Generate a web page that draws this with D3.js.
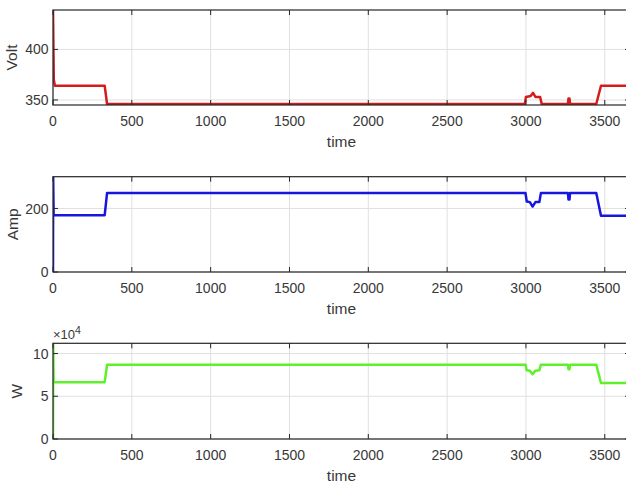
<!DOCTYPE html>
<html>
<head>
<meta charset="utf-8">
<script src="https://cdn.jsdelivr.net/npm/d3@7"></script>
<style>
  html, body { margin: 0; padding: 0; background: #fff; }
  svg { display: block; }
  text { font-family: "Liberation Sans", Arial, sans-serif; fill: #383838; }
</style>
</head>
<body>
<svg id="chart" width="626" height="487"></svg>
<script>
// time ticks shared by all three panels
const timeTicks = [0, 500, 1000, 1500, 2000, 2500, 3000, 3500];

// voltage trace
const voltTime = [0, 5, 12, 328, 343, 2993, 3000, 3030, 3045, 3060, 3090, 3100, 3266, 3270, 3276, 3280, 3446, 3476, 3660];
const voltVals = [439, 370, 364, 364, 346, 346, 353, 354, 357, 353, 353, 346, 346, 351.5, 351.5, 346, 346, 364, 364];
const voltTicks = [350, 400];

// current trace
const ampTime = [0, 1, 4, 328, 343, 2997, 3005, 3025, 3042, 3060, 3085, 3095, 3266, 3270, 3276, 3280, 3446, 3476, 3660];
const ampVals = [0, 300, 179, 179, 249, 249, 222, 220, 206, 220, 220, 249, 249, 228, 228, 249, 249, 177, 177];
const ampTicks = [0, 200];

// power trace
const powTime = [0, 1, 4, 328, 343, 2997, 3005, 3025, 3042, 3060, 3085, 3095, 3266, 3270, 3276, 3280, 3446, 3476, 3660];
const powVals = [0, 112000, 66500, 66500, 87000, 87000, 80500, 80000, 75800, 80000, 80500, 87000, 87000, 81500, 81500, 87000, 87000, 65500, 65500];
const powTicks = [0, 50000, 100000];

const svg = d3.select('#chart');

const left = 53, right = 630;
const x = d3.scaleLinear().domain([0, 3660]).range([left, right]);

function drawPanel(p) {
    const y = d3.scaleLinear().domain(p.domain).range([p.bottom, p.top]);
    const g = svg.append('g');

    // grid
    g.selectAll('.gx').data(timeTicks).enter().append('line')
        .attr('x1', d => x(d)).attr('x2', d => x(d))
        .attr('y1', p.top).attr('y2', p.bottom)
        .attr('stroke', '#e0e0e0').attr('stroke-width', 1);
    g.selectAll('.gy').data(p.ticks).enter().append('line')
        .attr('x1', left).attr('x2', right)
        .attr('y1', d => y(d)).attr('y2', d => y(d))
        .attr('stroke', '#e0e0e0').attr('stroke-width', 1);

    // data line, clipped to the axes box
    const clipId = 'clip' + p.id;
    svg.append('clipPath').attr('id', clipId).append('rect')
        .attr('x', left).attr('y', p.top)
        .attr('width', right - left).attr('height', p.bottom - p.top);

    const line = d3.line().x(d => x(d[0])).y(d => y(d[1]));
    g.append('path')
        .datum(p.time.map((t, i) => [t, p.vals[i]]))
        .attr('clip-path', `url(#${clipId})`)
        .attr('fill', 'none')
        .attr('stroke', p.color)
        .attr('stroke-width', 2.5)
        .attr('stroke-linejoin', 'round')
        .attr('d', line);

    // box
    g.append('rect')
        .attr('x', left).attr('y', p.top)
        .attr('width', right - left).attr('height', p.bottom - p.top)
        .attr('fill', 'none').attr('stroke', '#262626').attr('stroke-width', 1.2);

    // inward ticks on all sides
    const tl = 5;
    timeTicks.forEach(t => {
        g.append('line').attr('x1', x(t)).attr('x2', x(t))
            .attr('y1', p.bottom).attr('y2', p.bottom - tl)
            .attr('stroke', '#262626');
        g.append('line').attr('x1', x(t)).attr('x2', x(t))
            .attr('y1', p.top).attr('y2', p.top + tl)
            .attr('stroke', '#262626');
    });
    p.ticks.forEach(v => {
        g.append('line').attr('x1', left).attr('x2', left + tl)
            .attr('y1', y(v)).attr('y2', y(v)).attr('stroke', '#262626');
        g.append('line').attr('x1', right).attr('x2', right - tl)
            .attr('y1', y(v)).attr('y2', y(v)).attr('stroke', '#262626');
    });

    // tick labels
    g.selectAll('.xl').data(timeTicks).enter().append('text')
        .attr('x', d => x(d)).attr('y', p.bottom + 20.5)
        .attr('text-anchor', 'middle').attr('font-size', 14)
        .text(d => d);
    g.selectAll('.yl').data(p.ticks).enter().append('text')
        .attr('x', 48.5).attr('y', d => y(d))
        .attr('dy', '0.36em')
        .attr('text-anchor', 'end').attr('font-size', 14)
        .text(d => p.fmt ? p.fmt(d) : d);

    // axis labels
    g.append('text')
        .attr('x', x(1830)).attr('y', p.bottom + 41.5)
        .attr('text-anchor', 'middle').attr('font-size', 15.5)
        .text('time');
    g.append('text')
        .attr('transform', `translate(${p.labelX},${(p.top + p.bottom) / 2}) rotate(-90)`)
        .attr('text-anchor', 'middle').attr('font-size', 15.5)
        .text(p.label);
    return y;
}

drawPanel({ id: 1, top: 10, bottom: 105, domain: [345, 439], ticks: voltTicks,
    time: voltTime, vals: voltVals, color: '#d41c1c', label: 'Volt', labelX: 17 });
drawPanel({ id: 2, top: 176.7, bottom: 272, domain: [0, 300], ticks: ampTicks,
    time: ampTime, vals: ampVals, color: '#1616e0', label: 'Amp', labelX: 18 });
drawPanel({ id: 3, top: 343.3, bottom: 439, domain: [0, 112000], ticks: powTicks,
    time: powTime, vals: powVals, color: '#5ef02a', label: 'W', labelX: 22,
    fmt: d => d / 10000 });

// exponent note above the power panel
const expo = svg.append('text').attr('x', 53).attr('y', 338.5).attr('font-size', 13);
expo.append('tspan').text('\u00d710');
expo.append('tspan').attr('dy', -5).attr('font-size', 10.5).text('4');
</script>
</body>
</html>
